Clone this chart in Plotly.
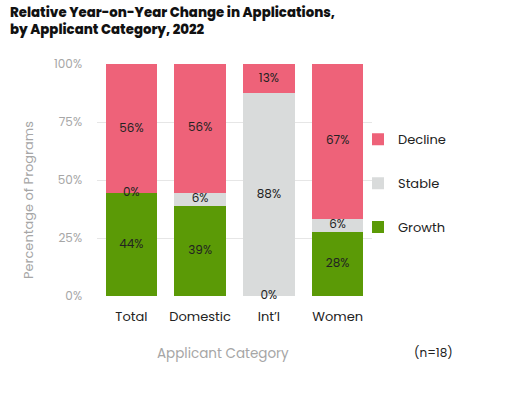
import plotly.graph_objects as go

categories = ["Total", "Domestic", "Int’l", "Women"]
growth = [44.4, 38.9, 0.0, 27.8]
stable = [0.0, 5.6, 87.5, 5.6]
decline = [55.6, 55.6, 12.5, 66.7]
y_ticks = [0, 25, 50, 75, 100]
y_tick_labels = ["0%", "25%", "50%", "75%", "100%"]

FONT = "Poppins, Lato, 'Open Sans', sans-serif"
colors = {"Growth": "#5b9a06", "Stable": "#d9dbdb", "Decline": "#ee6279"}
ranks = {"Decline": 1, "Stable": 2, "Growth": 3}

fig = go.Figure()
series = [("Growth", growth), ("Stable", stable), ("Decline", decline)]
for name, vals in series:
    fig.add_trace(go.Bar(
        x=categories, y=vals, name=name, marker_color=colors[name],
        marker_line_width=0, legendgroup=name, legendrank=ranks[name],
        textposition="none", hoverinfo="skip",
    ))

# label positions (segment midpoints) from data
base = [0.0] * len(categories)
lx, ly, lt = [], [], []
for name, vals in series:
    for i, v in enumerate(vals):
        lx.append(categories[i])
        ly.append(base[i] + v / 2)
        lt.append(f"{int(v + 0.5)}%")
        base[i] += v
fig.add_trace(go.Scatter(
    x=lx, y=ly, text=lt, mode="text", showlegend=False, cliponaxis=False,
    textfont=dict(family=FONT, size=12, color="#222222"), hoverinfo="skip",
))

PW, PH = 275, 232
fig.update_layout(
    width=521, height=398,
    barmode="stack", bargap=0.25,
    plot_bgcolor="white", paper_bgcolor="white",
    margin=dict(l=97, r=149, t=64, b=102),
    font=dict(family=FONT, color="#222222"),
    xaxis=dict(
        showgrid=False, showline=False, ticks="",
        tickfont=dict(family=FONT, size=13, color="#222222"),
        ticklabelstandoff=11,
    ),
    yaxis=dict(
        range=[0, 100], tickvals=y_ticks, ticktext=y_tick_labels,
        showgrid=True, gridcolor="#e6e6e6", gridwidth=1, zeroline=False,
        tickfont=dict(family=FONT, size=12, color="#a6a6a6"),
        ticklabelstandoff=14,
    ),
    legend=dict(
        x=(358 - 97) / PW, xanchor="left", y=0.74, yanchor="top",
        traceorder="grouped", tracegroupgap=24, bgcolor="rgba(0,0,0,0)",
        font=dict(family=FONT, size=13, color="#222222"),
        itemwidth=30,
    ),
    annotations=[
        dict(text="Relative Year-on-Year Change in Applications,<br>by Applicant Category, 2022",
             xref="paper", yref="paper", x=(8 - 97) / PW, y=(296 - 1) / PH,
             xanchor="left", yanchor="top", align="left", showarrow=False,
             font=dict(family=FONT, size=13.3, color="#111111", weight=800)),
        dict(text="Applicant Category", xref="paper", yref="paper",
             x=(223 - 97) / PW, y=(296 - 353) / PH, showarrow=False,
             xanchor="center", yanchor="middle",
             font=dict(family=FONT, size=13.5, color="#a6a6a6")),
        dict(text="Percentage of Programs", xref="paper", yref="paper",
             x=(28 - 97) / PW, y=(296 - 200) / PH, showarrow=False,
             xanchor="center", yanchor="middle",
             textangle=-90, font=dict(family=FONT, size=13, color="#a6a6a6")),
        dict(text="(n=18)", xref="paper", yref="paper",
             x=(433 - 97) / PW, y=(296 - 352) / PH, showarrow=False,
             xanchor="center", yanchor="middle",
             font=dict(family=FONT, size=12, color="#222222")),
    ],
)

fig.write_html("out.html", config={"displayModeBar": False},
               post_script="document.body.style.margin='0';")
